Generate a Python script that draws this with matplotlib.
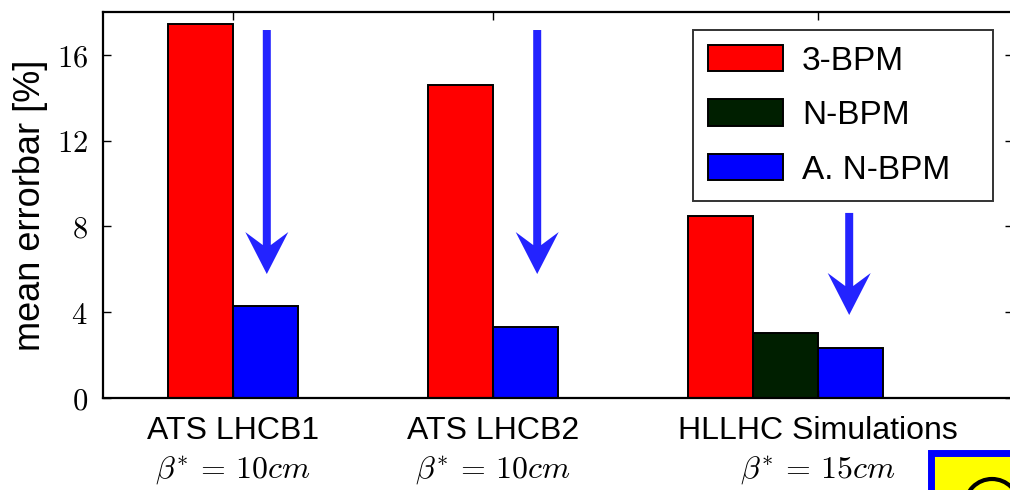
import matplotlib
matplotlib.use("Agg")
import matplotlib.pyplot as plt
from matplotlib.patches import Rectangle, Ellipse, Polygon
from matplotlib.transforms import blended_transform_factory, ScaledTranslation

plt.rcParams['mathtext.fontset'] = 'cm'
plt.rcParams['font.family'] = ['Liberation Sans', 'DejaVu Sans']

# data
categories = ["ATS LHCB1", "ATS LHCB2", "HLLHC Simulations"]
beta_labels = [r"$\beta^{*}\,=\,10cm$", r"$\beta^{*}\,=\,10cm$", r"$\beta^{*}\,=\,15cm$"]
series_names = ["3-BPM", "N-BPM", "A. N-BPM"]
three_bpm = [17.44, 14.6, 8.49]
n_bpm = [None, None, 3.03]
a_n_bpm = [4.29, 3.31, 2.33]
yticks = [0, 4, 8, 12, 16]

colors = {"3-BPM": "#ff0000", "N-BPM": "#001f00", "A. N-BPM": "#0000ff"}
arrow_color = "#2323ff"

# layout of the groups (bar width = 1 unit)
group_start = [1, 5, 9]
tick_pos = [2, 6, 11]

fig = plt.figure(figsize=(10.1, 4.9), dpi=100)
W, H = 1010, 490
ax = fig.add_axes([103 / W, 1 - 398 / H, (1013 - 103) / W, (398 - 12) / H])

edge = dict(edgecolor="black", linewidth=1.4, align="edge", width=1.0)
handles = {}
for i, x0 in enumerate(group_start):
    x = x0
    handles["3-BPM"] = ax.bar(x, three_bpm[i], color=colors["3-BPM"], **edge)
    x += 1
    if n_bpm[i] is not None:
        handles["N-BPM"] = ax.bar(x, n_bpm[i], color=colors["N-BPM"], **edge)
        x += 1
    handles["A. N-BPM"] = ax.bar(x, a_n_bpm[i], color=colors["A. N-BPM"], **edge)

ax.set_xlim(0, 14)
ax.set_ylim(0, 18)
ax.set_yticks(yticks)
ax.set_yticklabels([f"${v}$" for v in yticks], fontsize=22)
ax.set_xticks(tick_pos)
ax.set_xticklabels([])
ax.tick_params(direction="in", length=6, width=1.0, top=True, right=True,
               bottom=True, left=True, pad=11)
for s in ax.spines.values():
    s.set_linewidth(1.6)

ax.set_ylabel("mean errorbar [%]", fontsize=26, labelpad=6)

trans = blended_transform_factory(ax.transData, fig.transFigure)
for xp, cat, bl in zip(tick_pos, categories, beta_labels):
    ax.text(xp, 1 - 431 / H, cat, transform=trans, ha="center", va="center",
            fontsize=23)
    ax.text(xp, 1 - 471 / H, bl, transform=trans, ha="center", va="center",
            fontsize=23)

# reduction arrows: shaft plus swept-back head, sized in pixels
arrow_specs = [(2.52, 17.16, 5.78), (6.68, 17.16, 5.78), (11.48, 8.63, 3.87)]
shaft_hw, head_hw, barb_back, join_back = 4.0, 21.5, 42.0, 29.0
for xa, ytop, ytip in arrow_specs:
    y0 = ax.transData.transform((xa, ytip))[1]
    y1 = ax.transData.transform((xa, ytop))[1]
    L = y1 - y0
    pts = [(0, 0), (head_hw, barb_back), (shaft_hw, join_back), (shaft_hw, L),
           (-shaft_hw, L), (-shaft_hw, join_back), (-head_hw, barb_back)]
    pts = [(px / 100.0, py / 100.0) for px, py in pts]
    tr = fig.dpi_scale_trans + ScaledTranslation(xa, ytip, ax.transData)
    ax.add_patch(Polygon(pts, closed=True, transform=tr, facecolor=arrow_color,
                         edgecolor="none", zorder=4))

leg = ax.legend([handles[n] for n in series_names], series_names,
                loc="upper left",
                bbox_to_anchor=(693 / W, 1 - 202 / H, 300 / W, 172 / H),
                bbox_transform=fig.transFigure, mode="expand", fontsize=24,
                fancybox=False, frameon=True, handlelength=2.25,
                handleheight=0.84, labelspacing=0.68, borderpad=0.45,
                handletextpad=0.57, borderaxespad=0)
leg.get_frame().set_edgecolor("black")
leg.get_frame().set_linewidth(1.4)

# badge in the lower right corner
badge = Rectangle((931 / W, -0.05), 100 / W, 0.05 + (490 - 453) / H,
                  transform=fig.transFigure, facecolor="#ffff00",
                  edgecolor="#0000ff", linewidth=5, zorder=5)
fig.patches.append(badge)
ring = Ellipse((992 / W, 1 - 506 / H), 54 / W, 54 / H, transform=fig.transFigure,
               facecolor="none", edgecolor="black", linewidth=3, zorder=6)
fig.patches.append(ring)

fig.savefig("out.png", dpi=100)
